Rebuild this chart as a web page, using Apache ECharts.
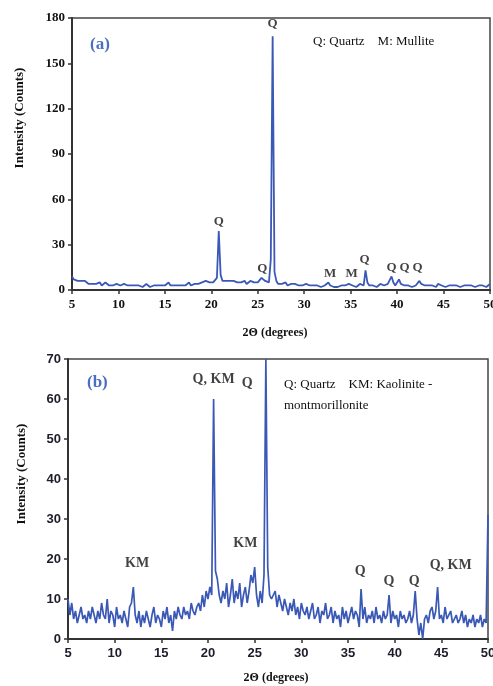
<!DOCTYPE html>
<html>
<head>
<meta charset="utf-8">
<script src="https://cdn.jsdelivr.net/npm/echarts@6/dist/echarts.min.js"></script>
<style>html,body{margin:0;padding:0;background:#fff}#c{width:493px;height:686px}</style>
</head>
<body>
<div id="c"></div>
<script>
// 2-theta sampling (degrees)
var angleStart = 5, angleStep = 0.2;
var xTicks = [5, 10, 15, 20, 25, 30, 35, 40, 45, 50];
var yTicksA = [0, 30, 60, 90, 120, 150, 180];
var yTicksB = [0, 10, 20, 30, 40, 50, 60, 70];

// (a) intensities, 5.0 .. 50.0 step 0.2
var intensityA = [
  9, 7, 8, 6, 7, 6, 5, 6, 5, 4,
  5, 4, 5, 4, 4, 5, 3, 4, 5, 4,
  3, 4, 3, 2, 4, 3, 3, 2, 4, 3,
  3, 2, 3, 4, 3, 2, 3, 3, 2, 3,
  4, 3, 2, 3, 3, 2, 3, 2, 3, 3,
  3, 4, 5, 3, 2, 3, 2, 3, 4, 3,
  4, 3, 4, 5, 3, 4, 4, 5, 4, 5,
  5, 4, 6, 5, 5, 6, 5, 6, 8, 39,
  10, 6, 5, 6, 5, 6, 5, 6, 6, 5,
  6, 5, 5, 6, 4, 5, 6, 5, 5, 6,
  5, 6, 8, 9, 6, 5, 5, 20, 168, 12,
  6, 4, 5, 4, 4, 5, 3, 4, 4, 3,
  4, 3, 3, 4, 3, 2, 4, 3, 3, 2,
  3, 2, 3, 3, 2, 3, 3, 4, 5, 3,
  3, 2, 3, 2, 3, 3, 2, 3, 3, 4,
  5, 3, 3, 2, 3, 4, 4, 3, 13, 5,
  3, 2, 3, 3, 2, 3, 4, 3, 3, 4,
  4, 5, 9, 5, 3, 4, 7, 4, 3, 3,
  2, 3, 3, 2, 3, 3, 4, 6, 4, 3,
  3, 2, 3, 2, 3, 3, 2, 4, 4, 3,
  3, 2, 3, 3, 2, 3, 2, 3, 3, 2,
  3, 3, 2, 3, 2, 3, 3, 2, 3, 3,
  2, 3, 3, 2, 3, 4
];

// (b) intensities, 5.0 .. 50.0 step 0.2
var intensityB = [
  10, 6, 9, 5, 7, 4, 6, 8, 5, 6,
  4, 7, 5, 8, 6, 4, 7, 5, 9, 6,
  5, 10, 4, 7, 6, 3, 8, 5, 6, 4,
  7, 5, 3, 8, 9, 13, 6, 4, 7, 3,
  6, 4, 7, 5, 3, 6, 8, 4, 6, 5,
  3, 7, 5, 8, 4, 6, 2, 7, 5, 8,
  6, 5, 8, 6, 7, 5, 9, 7, 6, 8,
  9, 7, 11, 8, 12, 10, 13, 11, 60, 17,
  15, 11, 9, 12, 10, 14, 8, 11, 15, 9,
  12, 10, 14, 8, 11, 13, 9, 12, 16, 14,
  18, 11, 8, 12, 9, 16, 70, 18, 11, 10,
  10, 12, 8, 11, 9, 7, 10, 8, 6, 9,
  7, 10, 6, 8, 5, 9, 7, 6, 8, 5,
  7, 9, 5, 6, 8, 4, 7, 6, 9, 5,
  6, 8, 4, 7, 5, 6, 3, 8, 5, 7,
  4, 6, 8, 5, 7, 6, 3, 12.5, 5, 8,
  4, 6, 5, 7, 4, 8, 5, 6, 4, 7,
  5, 6, 11, 4, 7, 5, 6, 3, 7, 5,
  6, 4, 5, 7, 4, 6, 12, 5, 1, 4,
  0, 5, 6, 4, 7, 8, 5, 7, 13, 5,
  6, 4, 8, 5, 6, 7, 4, 5, 6, 4,
  5, 7, 4, 6, 3, 5, 4, 6, 3, 5,
  4, 6, 3, 5, 4, 31
];

// peak annotations [angle, intensity, text]
var peaksA = [[20.8, 45, 'Q'], [25.5, 14, 'Q'], [26.6, 176, 'Q'], [32.8, 11, 'M'], [35.1, 11, 'M'],
              [36.5, 20, 'Q'], [39.4, 15, 'Q'], [40.8, 15, 'Q'], [42.2, 15, 'Q']];
var peaksB = [[20.6, 65, 'Q, KM'], [24.2, 64, 'Q'], [24.0, 24, 'KM'], [12.4, 19, 'KM'],
              [36.3, 17, 'Q'], [39.4, 14.5, 'Q'], [42.1, 14.5, 'Q'], [46.0, 18.5, 'Q, KM']];

function pairs(arr) {
  return arr.map(function (v, i) { return [+(angleStart + i * angleStep).toFixed(2), v]; });
}
function annot(arr) {
  return arr.map(function (p) { return { value: [p[0], p[1]], name: p[2] }; });
}

var serif = 'Liberation Serif';
var sans = 'Liberation Sans';
var lineColor = '#3a58b6';

function xAxis(gi, font, color) {
  return {
    type: 'value', gridIndex: gi, min: 5, max: 50, interval: 5,
    axisLine: { show: true, onZero: false, lineStyle: { color: '#333', width: 2 } },
    axisTick: { show: true, length: 4, lineStyle: { color: '#333', width: 1.5 } },
    axisLabel: { fontFamily: font, fontWeight: 'bold', fontSize: 13, color: color, margin: 8 },
    splitLine: { show: false }
  };
}
function yAxis(gi, max, interval, font, color) {
  return {
    type: 'value', gridIndex: gi, min: 0, max: max, interval: interval,
    axisLine: { show: true, lineStyle: { color: '#333', width: 2 } },
    axisTick: { show: true, length: 4, lineStyle: { color: '#333', width: 1.5 } },
    axisLabel: { fontFamily: font, fontWeight: 'bold', fontSize: 13, color: color, margin: 7 },
    splitLine: { show: false }
  };
}

var chart = echarts.init(document.getElementById('c'), null, { renderer: 'canvas' });
chart.setOption({
  animation: false,
  backgroundColor: '#fff',
  grid: [
    { left: 72, top: 18, width: 418, height: 272, show: true, borderColor: '#444', borderWidth: 1.5,
      backgroundColor: 'transparent', containLabel: false, outerBoundsMode: 'none' },
    { left: 68, top: 359, width: 420, height: 280, show: true, borderColor: '#444', borderWidth: 1.5,
      backgroundColor: 'transparent', containLabel: false, outerBoundsMode: 'none' }
  ],
  xAxis: [xAxis(0, serif, '#111'), xAxis(1, sans, '#1c1c2a')],
  yAxis: [yAxis(0, 180, 30, serif, '#111'), yAxis(1, 70, 10, sans, '#1c1c2a')],
  series: [
    { type: 'line', xAxisIndex: 0, yAxisIndex: 0, data: pairs(intensityA), showSymbol: false, symbol: 'none',
      lineStyle: { color: lineColor, width: 1.8 }, clip: true },
    { type: 'line', xAxisIndex: 1, yAxisIndex: 1, data: pairs(intensityB), showSymbol: false, symbol: 'none',
      lineStyle: { color: lineColor, width: 1.7 }, clip: true },
    { type: 'scatter', xAxisIndex: 0, yAxisIndex: 0, symbolSize: 0, data: annot(peaksA), silent: true,
      label: { show: true, position: 'inside', formatter: '{b}', fontFamily: serif, fontWeight: 'bold', fontSize: 13, color: '#111' } },
    { type: 'scatter', xAxisIndex: 1, yAxisIndex: 1, symbolSize: 0, data: annot(peaksB), silent: true,
      label: { show: true, position: 'inside', formatter: '{b}', fontFamily: serif, fontWeight: 'bold', fontSize: 14, color: '#111' } }
  ],
  graphic: [
    { type: 'text', left: 90, top: 36, style: { text: '(a)', font: 'bold 17px "Liberation Serif"', fill: '#4a6fc0' } },
    { type: 'text', left: 87, top: 374, style: { text: '(b)', font: 'bold 17px "Liberation Serif"', fill: '#4a6fc0' } },
    { type: 'text', left: 313, top: 35, style: { text: 'Q: Quartz    M: Mullite', font: '13px "Liberation Serif"', fill: '#111' } },
    { type: 'text', left: 284, top: 374, style: { text: 'Q: Quartz    KM: Kaolinite -\nmontmorillonite', font: '13px "Liberation Serif"', fill: '#111', lineHeight: 21 } },
    { type: 'text', x: 20, y: 118, rotation: Math.PI / 2, style: { text: 'Intensity (Counts)', font: 'bold 13px "Liberation Serif"', fill: '#111', align: 'center', verticalAlign: 'middle' } },
    { type: 'text', x: 22, y: 474, rotation: Math.PI / 2, style: { text: 'Intensity (Counts)', font: 'bold 13px "Liberation Serif"', fill: '#111', align: 'center', verticalAlign: 'middle' } },
    { type: 'text', x: 275, y: 333, style: { text: '2Θ (degrees)', font: 'bold 12px "Liberation Serif"', fill: '#111', align: 'center', verticalAlign: 'middle' } },
    { type: 'text', x: 276, y: 678, style: { text: '2Θ (degrees)', font: 'bold 12px "Liberation Serif"', fill: '#111', align: 'center', verticalAlign: 'middle' } }
  ]
});
</script>
</body>
</html>
